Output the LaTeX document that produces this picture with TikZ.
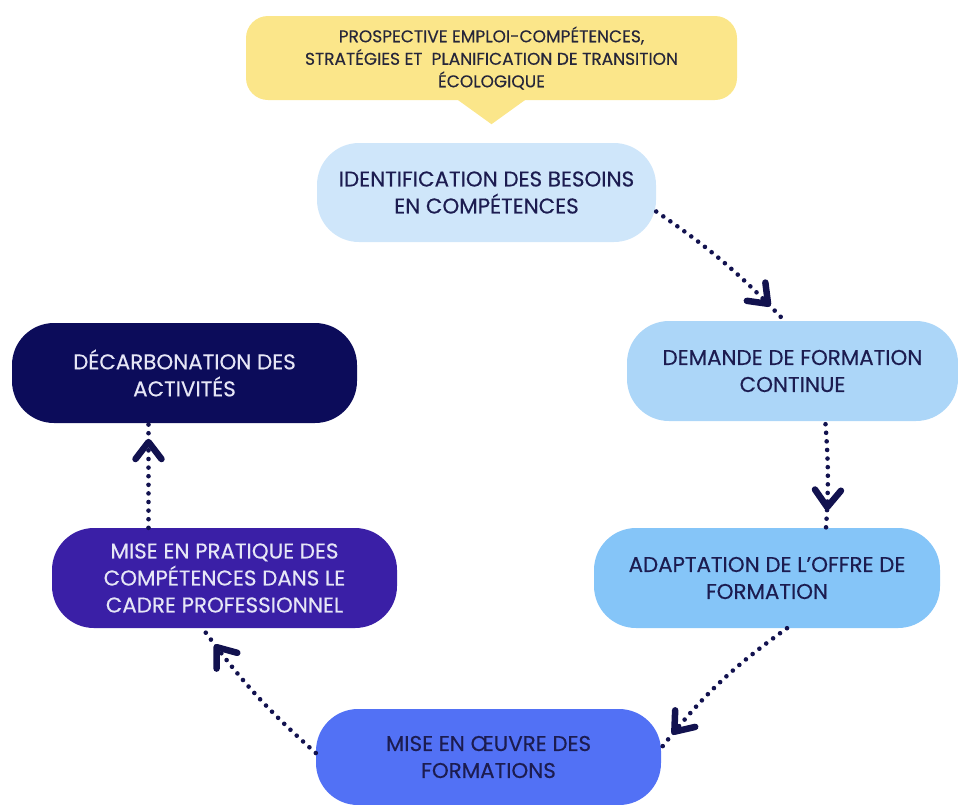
\documentclass[tikz,border=0pt]{standalone}
\usepackage{fontspec}
\setmainfont{Poppins}[FakeBold=0.35]
\usetikzlibrary{decorations.markings}
\definecolor{ycol}{HTML}{FBE68A}
\definecolor{c1}{HTML}{CFE6FA}
\definecolor{c2}{HTML}{ACD6F8}
\definecolor{c3}{HTML}{85C5F8}
\definecolor{c4}{HTML}{5271F5}
\definecolor{c5}{HTML}{3A1FA6}
\definecolor{c6}{HTML}{0C0C5A}
\definecolor{navy}{HTML}{12124F}
\definecolor{dtext}{HTML}{1C1C50}
\definecolor{ctext}{HTML}{26263A}
\definecolor{ltext}{HTML}{E6E6F6}
\tikzset{
  stage/.style={rounded corners=42pt, minimum width=343pt, minimum height=100pt,
    align=center, inner sep=0pt, font=\fontsize{21.4}{27}\selectfont, text=dtext},
  flow/.style={line width=4.6pt, dash pattern=on 0pt off 8.6pt, line cap=round, draw=navy,
    postaction={decorate, decoration={markings,
      mark=at position #1 with {\draw[navy, solid, line width=6.5pt, line cap=round, line join=round]
        (-17pt,13pt) -- (0pt,0pt) -- (-17pt,-13pt);}}}},
}
\begin{document}
\begin{tikzpicture}[x=1pt,y=-1pt]
\useasboundingbox (0,0) rectangle (958,804);
% callout
\node[fill=ycol, rounded corners=22pt, minimum width=491pt, minimum height=84pt,
  align=center, inner sep=0pt, font=\fontsize{17}{22.5}\selectfont, text=ctext]
  (top) at (491.5,58) {PROSPECTIVE EMPLOI-COMPÉTENCES,\\STRATÉGIES ET\ \ PLANIFICATION DE TRANSITION\\ÉCOLOGIQUE};
\fill[ycol] ([xshift=-34pt,yshift=0.5pt]top.south) -- ([yshift=-24pt]top.south) -- ([xshift=34pt,yshift=0.5pt]top.south) -- cycle;
% stages
\node[stage, fill=c1, minimum width=339pt, minimum height=99pt] (n1) at (486.5,192.5) {IDENTIFICATION DES BESOINS\\EN COMPÉTENCES};
\node[stage, fill=c2, minimum width=331pt] (n2) at (792.5,371) {DEMANDE DE FORMATION\\CONTINUE};
\node[stage, fill=c3, minimum width=346pt] (n3) at (767,578) {ADAPTATION DE L’OFFRE DE\\FORMATION};
\node[stage, fill=c4, minimum width=345pt, minimum height=96pt] (n4) at (488.5,757) {MISE EN ŒUVRE DES\\FORMATIONS};
\node[stage, fill=c5, minimum width=345pt, text=ltext] (n5) at (224.5,578) {MISE EN PRATIQUE DES\\COMPÉTENCES DANS LE\\CADRE PROFESSIONNEL};
\node[stage, fill=c6, minimum width=345pt, text=ltext] (n6) at (184.5,373) {DÉCARBONATION DES\\ACTIVITÉS};
% connectors
\draw[flow=0.86] ([yshift=-19pt]n1.east) to[bend left=6] ([xshift=-8pt]n2.north);
\draw[flow=0.8] ([xshift=33pt,yshift=-3pt]n2.south) to[bend left=4] ([xshift=59pt]n3.north);
\draw[flow=0.88] ([xshift=20pt]n3.south) to[bend right=8] ([yshift=9pt]n4.east);
\draw[flow=0.86] ([yshift=4pt]n4.west) to[bend left=6] ([xshift=-22pt]n5.south);
\draw[flow=0.82] ([xshift=-76pt]n5.north) -- ([xshift=-36pt]n6.south);
\end{tikzpicture}
\end{document}
